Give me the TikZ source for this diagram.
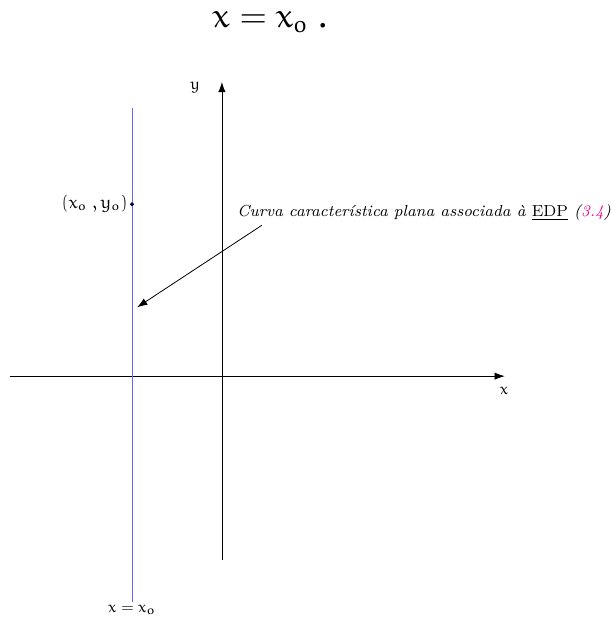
\documentclass[tikz,border=0pt]{standalone}
\usepackage{amsmath,amssymb}
\usepackage{euler}
\usepackage{tikz}
\usetikzlibrary{arrows.meta}

\begin{document}
\begin{tikzpicture}[scale=1.0,>={Latex[length=1.8mm,width=1.3mm]}]
\useasboundingbox (-3.90,-4.25) rectangle (6.84,6.61);
\node[font=\LARGE,inner sep=1pt] (title) at (0.84,6.22) {$x = x_{o}\;.$};
\coordinate (xl) at (-3.73,0);
\coordinate (xr) at (4.97,0);
\coordinate (yb) at (0,-3.23);
\coordinate (yt) at (0,5.17);
\draw[->,thin] (xl) -- (xr);
\draw[->,thin] (yb) -- (yt);
\node[font=\footnotesize,anchor=north,inner sep=2pt] (xlab) at (4.96,-0.12) {$x$};
\node[font=\footnotesize,inner sep=1pt] (ylab) at (-0.47,5.08) {$y$};
\coordinate (lt) at (-1.58,4.71);
\coordinate (lb) at (-1.58,-3.96);
\draw[blue!60,thin] (lb) -- (lt);
\node[font=\footnotesize,anchor=north,inner sep=0pt] (llab) at (-1.58,-4.02) {$x = x_{o}$};
\filldraw[blue!30!black] (-1.58,3.02) circle (0.8pt) coordinate (p0);
\node[font=\small,anchor=east,inner sep=2pt] (plab) at (p0) {$(x_{o}\;,y_{o})$};
\node[font=\footnotesize\itshape,anchor=west,inner sep=1pt] (curva) at (0.23,2.87)
  {Curva caracter\'istica plana associada \`a \underline{\upshape EDP} ({\color{magenta}3.4})};
\coordinate (as) at (0.70,2.65);
\coordinate (ae) at (-1.49,1.21);
\draw[->,thin] (as) -- (ae);
\end{tikzpicture}
\end{document}
